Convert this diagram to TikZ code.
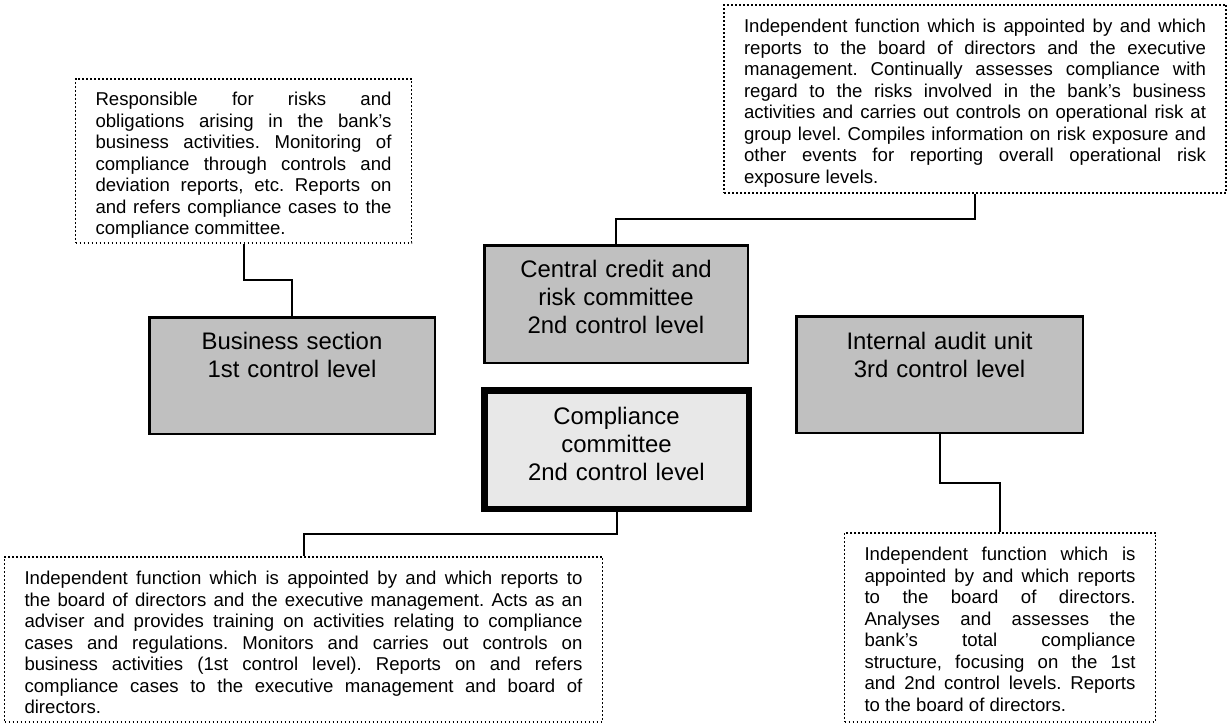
\documentclass[tikz,border=0pt]{standalone}
\usepackage{fontspec}
\setmainfont{Liberation Sans}
\usetikzlibrary{calc}
\tolerance=10000
\frenchspacing
\definecolor{unitgray}{HTML}{C0C0C0}
\definecolor{complgray}{HTML}{E8E8E8}
\tikzset{>=latex}
\tikzset{unit/.style={draw, line width=2.5pt, fill=unitgray, inner sep=0pt, anchor=north,
  align=center, font=\fontsize{23.9}{28}\selectfont}}
\tikzset{mainunit/.style={unit, line width=6.5pt, fill=complgray}}
\tikzset{note/.style={draw, line width=1.8pt, dash pattern=on 1.8pt off 2.2pt,
  inner xsep=20pt, inner ysep=0pt, anchor=north, align=justify, text height=28pt,
  font=\fontsize{18.6}{21.5}\selectfont\frenchspacing}}
\tikzset{link/.style={line width=2pt}}

\begin{document}
\begin{tikzpicture}[x=1pt, y=-1pt]
    \useasboundingbox (0, 0) rectangle (1228, 723);
    \node[unit, text width=285.5pt, text height=32.3pt, text depth=84.2pt](business)at(292, 316.3)
      {Business section\\1st control level};
    \node[unit, text width=263.5pt, text height=32.3pt, text depth=85.2pt](central)at(616, 244.3)
      {Central credit and\\risk committee\\2nd control level};
    \node[mainunit, text width=264.5pt, text height=34.3pt, text depth=84.2pt](compliance)at(616.5, 387.3)
      {Compliance\\committee\\2nd control level};
    \node[unit, text width=286.5pt, text height=33.3pt, text depth=83.2pt](audit)at(939.5, 315.3)
      {Internal audit unit\\3rd control level};
    \node[note, text width=296pt, text height=26.9pt, text depth=137.5pt](bnote)at(243.5, 77.8)
      {Responsible for risks and\linebreak
       obligations arising in the bank’s\linebreak
       business activities. Monitoring of\linebreak
       compliance through controls and\linebreak
       deviation reports, etc. Reports on\linebreak
       and refers compliance cases to the\linebreak
       compliance committee.};
    \node[note, text width=462pt, text depth=160.5pt](cnote)at(975, 3.8)
      {Independent function which is appointed by and which\linebreak
       reports to the board of directors and the executive\linebreak
       management. Continually assesses compliance with\linebreak
       regard to the risks involved in the bank’s business\linebreak
       activities and carries out controls on operational risk at\linebreak
       group level. Compiles information on risk exposure and\linebreak
       other events for reporting overall operational risk\linebreak
       exposure levels.};
    \node[note, text width=558pt, text depth=137.5pt](knote)at(303.5, 555.8)
      {Independent function which is appointed by and which reports to\linebreak
       the board of directors and the executive management. Acts as an\linebreak
       adviser and provides training on activities relating to compliance\linebreak
       cases and regulations. Monitors and carries out controls on\linebreak
       business activities (1st control level). Reports on and refers\linebreak
       compliance cases to the executive management and board of\linebreak
       directors.};
    \node[note, text width=271pt, text depth=161.5pt](anote)at(1000, 531.8)
      {Independent function which is\linebreak
       appointed by and which reports\linebreak
       to the board of directors.\linebreak
       Analyses and assesses the\linebreak
       bank’s total compliance\linebreak
       structure, focusing on the 1st\linebreak
       and 2nd control levels. Reports\linebreak
       to the board of directors.};
    \draw[link](bnote.south)|-($(bnote.south)!.5!(business.north)$)-|(business.north);
    \draw[link](cnote.south)|-($(cnote.south)!.5!(central.north)$)-|(central.north);
    \draw[link](compliance.south)|-($(compliance.south)!.5!(knote.north)$)-|(knote.north);
    \draw[link](audit.south)|-($(audit.south)!.5!(anote.north)$)-|(anote.north);
\end{tikzpicture}
\end{document}
